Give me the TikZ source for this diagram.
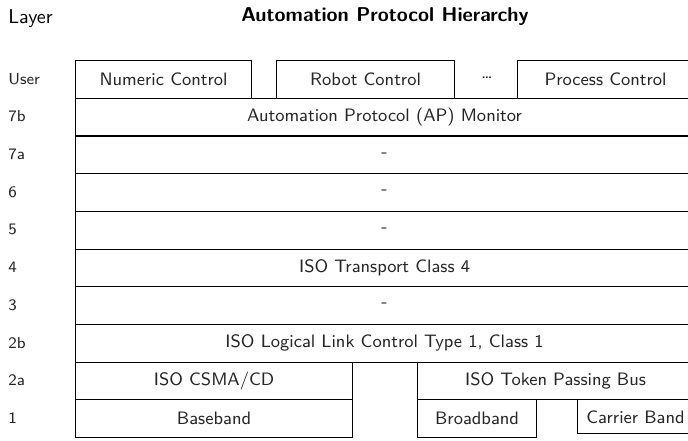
\documentclass[tikz,border=0pt]{standalone}
\usetikzlibrary{positioning}

\newcommand{\pxu}{0.5pt}
\tikzset{
  layerbox/.style={draw, line width=0.55pt, anchor=north west, inner sep=0pt,
                   font=\sffamily\small, text=black!85},
  laylabel/.style={anchor=west, inner sep=0pt, font=\sffamily\footnotesize, text=black!85},
}

\begin{document}
\begin{tikzpicture}[x=\pxu, y=-\pxu]
    \useasboundingbox (0,0) rectangle (688,440);

    % Heading
    \node[anchor=west, inner sep=0pt, font=\sffamily] (layerhead) at (8,19) {Layer};
    \node[inner sep=0pt, font=\sffamily\bfseries] (title) at (385,17) {Automation Protocol Hierarchy};

    % Layer numbers down the left side
    \foreach \lab [count=\i from 0] in {User,7b,7a,6,5,4,3,2b,2a,1}
        \node[laylabel] (l\lab) at (8,{78.8+37.7*\i}) {\lab};

    % User applications
    \node[layerbox, minimum width=176*\pxu, minimum height=37.7*\pxu] (numeric) at (75,60) {Numeric Control};
    \node[layerbox, minimum width=178*\pxu, minimum height=37.7*\pxu] (robot) at (276,60) {Robot Control};
    \node[inner sep=0pt, font=\sffamily\small] (dots) at (487,78) {\dots};
    \node[layerbox, minimum width=176*\pxu, minimum height=37.7*\pxu] (process) at (517,60) {Process Control};

    % Full width layers 7b to 2b
    \foreach \name/\txt [count=\i from 0] in {r7b/Automation Protocol (AP) Monitor, r7a/-, r6/-, r5/-,
            r4/ISO Transport Class 4, r3/-, r2b/{ISO Logical Link Control Type 1, Class 1}}
        \node[layerbox, minimum width=618*\pxu, minimum height=37.7*\pxu] (\name) at (75,{97.7+37.7*\i}) {\txt};

    % Layer 2a: medium access
    \node[layerbox, minimum width=277*\pxu, minimum height=37.7*\pxu] (csma) at (75,361.6) {ISO CSMA/CD};
    \node[layerbox, minimum width=276*\pxu, minimum height=37.7*\pxu] (token) at (417,361.6) {ISO Token Passing Bus};

    % Layer 1: physical media
    \node[layerbox, minimum width=277*\pxu, minimum height=37.7*\pxu] (baseband) at (75,399.3) {Baseband};
    \node[layerbox, minimum width=119*\pxu, minimum height=37.7*\pxu] (broadband) at (417,399.3) {Broadband};
    \node[layerbox, minimum width=116*\pxu, minimum height=34*\pxu] (carrier) at (577,399.3) {Carrier Band};
\end{tikzpicture}
\end{document}
